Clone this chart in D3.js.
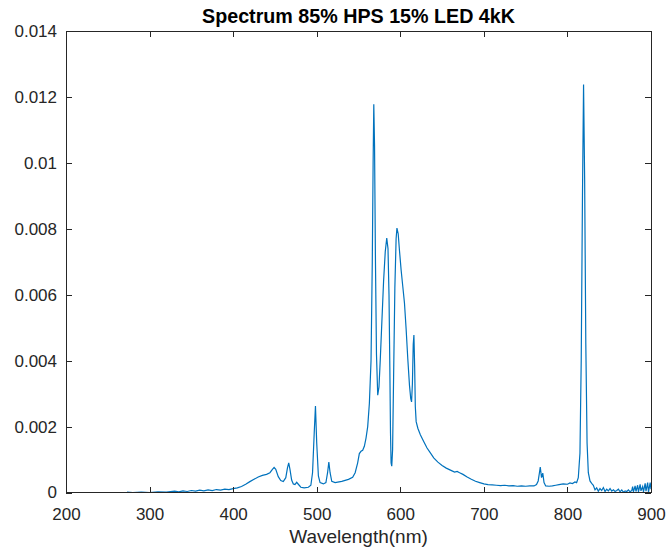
<!DOCTYPE html>
<html>
<head>
<meta charset="utf-8">
<script src="https://cdn.jsdelivr.net/npm/d3@7"></script>
<style>
  body { margin: 0; background: #fff; }
  svg { font-family: "Liberation Sans", Arial, Helvetica, sans-serif; }
</style>
</head>
<body>
<div id="viz"></div>
<script>
// spectrum: wavelength (nm) and relative power
const wavelength = [
  273, 280, 290, 300, 310, 320, 330, 335, 340, 345, 350, 355, 360, 365, 370, 375, 380, 385, 390, 395,
  400, 405, 410, 415, 420, 425, 430, 435, 440, 444, 447, 449, 451, 454, 457, 460, 463, 465, 466.5, 468,
  470, 472, 474, 476, 478, 481, 485, 490, 493, 495, 497, 498.5, 500, 502, 504, 508, 511, 513, 514.5, 516,
  518, 522, 530, 538, 543, 546, 549, 551, 553, 555, 557, 559, 561, 563, 565, 566.5, 567.5, 568.3, 569.2, 570.3,
  571.5, 573, 574.5, 576, 578, 580, 582, 583.8, 585.3, 586.5, 587.5, 588.3, 589, 589.8, 590.8, 592, 593.5, 595, 596,
  597.5, 599, 601, 603, 605, 607, 609, 611, 612.5, 613.5, 614.5, 615.5, 616.3, 617.2, 618, 619, 621, 624, 628,
  632, 636, 640, 645, 650, 655, 660, 665, 668, 671, 675, 680, 685, 690, 695, 700, 705, 710, 715, 720,
  725, 730, 735, 740, 745, 750, 755, 760, 763, 765, 766.5, 767.5, 769, 770.5, 772, 774, 778, 782, 786, 790,
  795, 800, 803, 806, 809, 811, 813, 815, 816.5, 818, 819.3, 820.6, 822, 823.5, 825, 827, 829, 831, 833, 835,
  837, 839, 841, 843, 845, 847, 849, 851, 853, 855, 857, 859, 861, 863, 865, 867, 869, 871, 873, 875,
  877, 878, 879, 881, 882, 884, 885, 887, 888, 890, 891, 893, 894, 896, 897, 899, 900
];
const power = [
  0.00001, 0.00000, 0.00001, 0.00000, 0.00002, 0.00001, 0.00004, 0.00002, 0.00005, 0.00003, 0.00006, 0.00004, 0.00007, 0.00005, 0.00008, 0.00006, 0.00009, 0.00007, 0.00010, 0.00009,
  0.00012, 0.00014, 0.00018, 0.00025, 0.00033, 0.00040, 0.00047, 0.00052, 0.00055, 0.00060, 0.00070, 0.00076, 0.00070, 0.00048, 0.00036, 0.00033, 0.00045, 0.00075, 0.00090, 0.00070,
  0.00038, 0.00026, 0.00024, 0.00031, 0.00025, 0.00016, 0.00014, 0.00016, 0.00022, 0.00060, 0.00180, 0.00262, 0.00150, 0.00050, 0.00030, 0.00026, 0.00030, 0.00060, 0.00092, 0.00060,
  0.00034, 0.00030, 0.00034, 0.00040, 0.00046, 0.00060, 0.00090, 0.00118, 0.00125, 0.00128, 0.00140, 0.00165, 0.00200, 0.00270, 0.00400, 0.00700, 0.01000, 0.01178, 0.01050, 0.00700,
  0.00420, 0.00295, 0.00320, 0.00400, 0.00520, 0.00640, 0.00730, 0.00772, 0.00740, 0.00600, 0.00380, 0.00180, 0.00090, 0.00080, 0.00130, 0.00350, 0.00620, 0.00770, 0.00802,
  0.00785, 0.00735, 0.00675, 0.00625, 0.00575, 0.00495, 0.00405, 0.00325, 0.00285, 0.00275, 0.00330, 0.00450, 0.00478, 0.00380, 0.00260, 0.00215, 0.00195, 0.00175, 0.00155,
  0.00135, 0.00120, 0.00105, 0.00092, 0.00082, 0.00074, 0.00068, 0.00062, 0.00064, 0.00060, 0.00055, 0.00047, 0.00040, 0.00034, 0.00030, 0.00026, 0.00024, 0.00023, 0.00022, 0.00021,
  0.00022, 0.00020, 0.00021, 0.00019, 0.00020, 0.00019, 0.00020, 0.00020, 0.00024, 0.00035, 0.00060, 0.00077, 0.00045, 0.00059, 0.00030, 0.00020, 0.00019, 0.00020, 0.00022, 0.00024,
  0.00026, 0.00025, 0.00029, 0.00027, 0.00032, 0.00030, 0.00045, 0.00120, 0.00400, 0.00900, 0.01238, 0.00950, 0.00450, 0.00150, 0.00060, 0.00035, 0.00028, 0.00022, 0.00008, 0.00014,
  0.00004, 0.00012, 0.00006, 0.00015, 0.00003, 0.00010, 0.00005, 0.00012, 0.00004, 0.00008, 0.00003, 0.00006, 0.00010, 0.00002, 0.00008, 0.00001, 0.00005, 0.00003, 0.00008, 0.00002,
  0.00006, 0.00018, 0.00002, 0.00020, 0.00003, 0.00022, 0.00002, 0.00025, 0.00005, 0.00018, 0.00002, 0.00028, 0.00004, 0.00030, 0.00001, 0.00030, 0.00010
];
const xTicks = [200, 300, 400, 500, 600, 700, 800, 900];
const yTicks = [0, 0.002, 0.004, 0.006, 0.008, 0.01, 0.012, 0.014];

const data = wavelength.map((w, i) => ({ w, p: power[i] }));

const margin = { top: 31, right: 15, bottom: 59.5, left: 66 };
const width = 666 - margin.left - margin.right;
const height = 552 - margin.top - margin.bottom;
const axisColor = "#262626";

const svg = d3.select("#viz")
    .append("svg")
    .attr("width", 666)
    .attr("height", 552)
    .append("g")
    .attr("transform", `translate(${margin.left},${margin.top})`);

const x = d3.scaleLinear().domain([200, 900]).range([0, width]);
const y = d3.scaleLinear().domain([0, 0.014]).range([height, 0]);

// spectrum line
svg.append("path")
    .datum(data)
    .attr("fill", "none")
    .attr("stroke", "#0072BD")
    .attr("stroke-width", 1.2)
    .attr("d", d3.line().x(d => x(d.w)).y(d => y(d.p)));

// axes with inward ticks (box on)
const fmtY = d => d === 0 ? "0" : String(+d.toFixed(3));

const gBottom = svg.append("g")
    .attr("transform", `translate(0,${height})`)
    .call(d3.axisBottom(x).tickValues(xTicks).tickSize(-6).tickPadding(15).tickFormat(d3.format("d")));
const gLeft = svg.append("g")
    .call(d3.axisLeft(y).tickValues(yTicks).tickSize(-6).tickPadding(9).tickFormat(fmtY));
const gTop = svg.append("g")
    .call(d3.axisTop(x).tickValues(xTicks).tickSize(-6).tickFormat(""));
const gRight = svg.append("g")
    .attr("transform", `translate(${width},0)`)
    .call(d3.axisRight(y).tickValues(yTicks).tickSize(-6).tickFormat(""));

[gBottom, gTop].forEach(g => g.select(".domain").attr("d", `M0,0H${width}`));
[gLeft, gRight].forEach(g => g.select(".domain").attr("d", `M0,0V${height}`));

[gBottom, gLeft, gTop, gRight].forEach(g => {
  g.selectAll("path, line").attr("stroke", axisColor).attr("shape-rendering", "crispEdges");
  g.selectAll("text").attr("fill", axisColor).style("font-size", "17px")
    .style("font-family", "'Liberation Sans', Arial, Helvetica, sans-serif");
});

// title and label
svg.append("text")
    .attr("x", width / 2)
    .attr("y", -8)
    .attr("text-anchor", "middle")
    .attr("fill", "#000")
    .style("font-size", "19.7px")
    .style("font-weight", "bold")
    .text("Spectrum 85% HPS 15% LED 4kK");

svg.append("text")
    .attr("x", width / 2)
    .attr("y", height + 50)
    .attr("text-anchor", "middle")
    .attr("fill", axisColor)
    .style("font-size", "19px")
    .text("Wavelength(nm)");
</script>
</body>
</html>
